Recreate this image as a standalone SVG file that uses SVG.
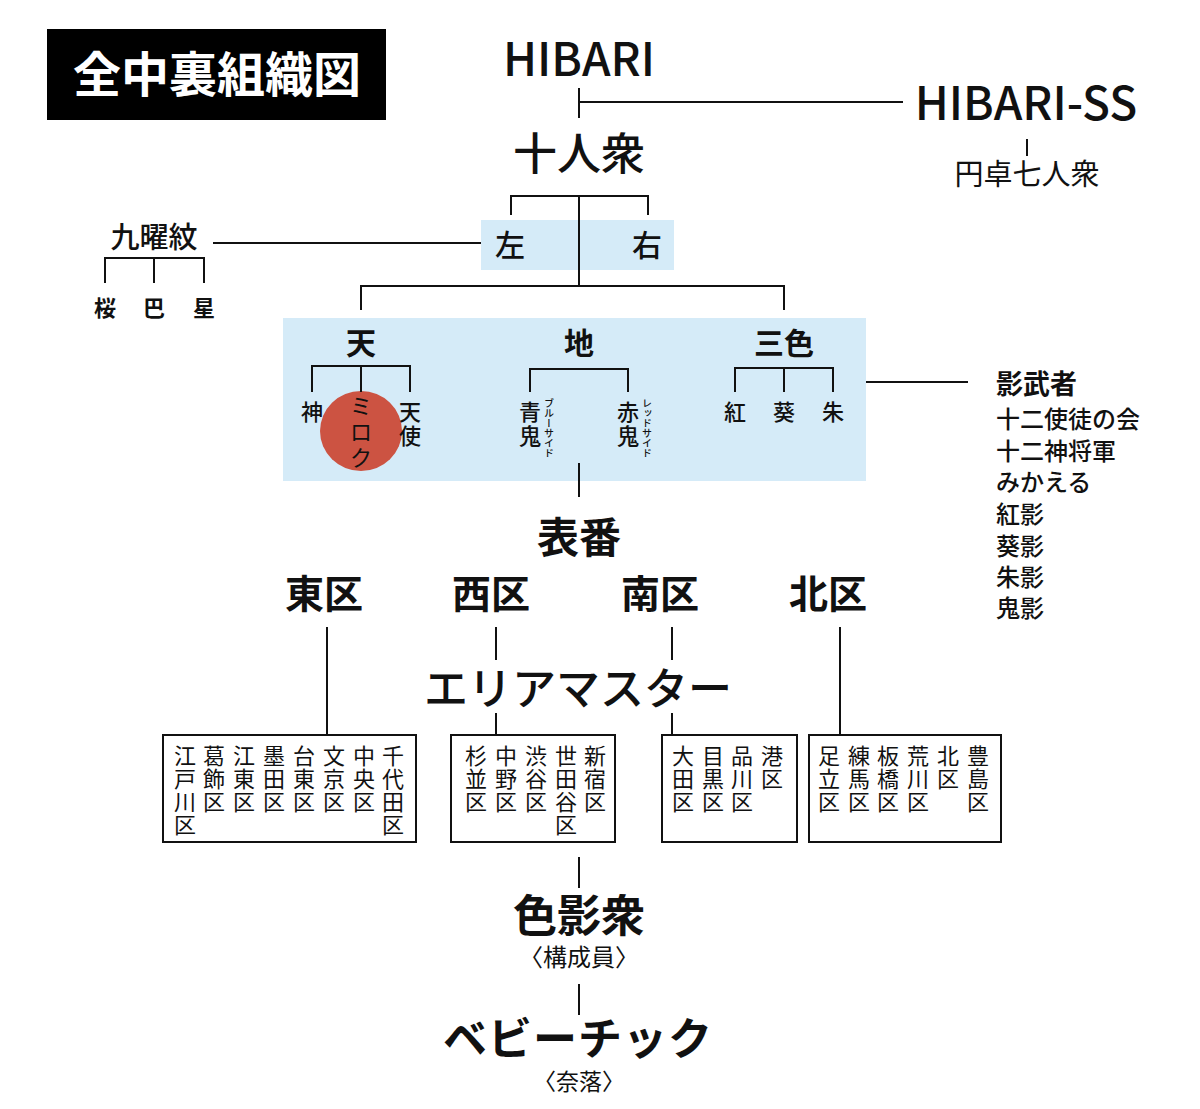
<svg xmlns="http://www.w3.org/2000/svg" width="1200" height="1109" viewBox="0 0 1200 1109">
<style>
text{font-family:"Noto Sans CJK JP","Noto Sans",sans-serif;fill:#111;}
.c{text-anchor:middle;}
.b{font-weight:700;}
.m{font-weight:500;}
.ln{stroke:#111;stroke-width:2;fill:none;}
.bx{fill:#fff;stroke:#111;stroke-width:2;}
.blue{fill:#d5ebf8;}
.w{font-size:22px;font-weight:500;text-anchor:middle;}
.r{font-size:22px;font-weight:400;text-anchor:middle;}
.v{font-size:10px;writing-mode:vertical-rl;font-weight:500;}
</style>
<rect x="0" y="0" width="1200" height="1109" fill="#fff"/>
<g id="title"><rect x="47" y="29" width="339" height="91" fill="#000"/><text x="217" y="92" class="c b" font-size="48" style="fill:#fff">全中裏組織図</text></g>
<g id="bg">
<rect class="blue" x="481" y="220" width="193" height="50"/>
<rect class="blue" x="283" y="318" width="583" height="163"/>
<ellipse cx="361" cy="431" rx="41" ry="40" fill="#cc5342"/>
</g>
<g id="connectors">
<path class="ln" d="M579 88V118M579 102H903M1027 139V156"/>
<path class="ln" d="M511 215V196H648V215M579 196V286"/>
<path class="ln" d="M213 243H481"/>
<path class="ln" d="M105 283V258H204V283M154 258V283"/>
<path class="ln" d="M361 310V286H784V310"/>
<path class="ln" d="M312 392V366H410V392M361 366V392"/>
<path class="ln" d="M530 392V369H628V392"/>
<path class="ln" d="M735 392V368H833V392M784 368V392"/>
<path class="ln" d="M866 382H968"/>
<path class="ln" d="M579 463V497"/>
<path class="ln" d="M327 627V735M840 627V735M496 627V660M496 713V735M672 627V660M672 713V735"/>
<path class="ln" d="M579 857V888M579 984V1015"/>
</g>
<g id="hibari"><text x="579" y="76" class="c m" font-size="46">HIBARI</text></g>
<g id="hibari-ss"><text x="1026" y="120" class="c m" font-size="46">HIBARI-SS</text></g>
<g id="entaku"><text x="1027" y="185" class="c" font-size="29">円卓七人衆</text></g>
<g id="juninshu"><text x="579" y="170" class="c m" font-size="44">十人衆</text></g>
<g id="sa"><text x="510" y="256" class="c m" font-size="30">左</text></g>
<g id="u"><text x="647" y="256" class="c m" font-size="30">右</text></g>
<g id="kuyomon"><text x="154" y="248" class="c m" font-size="29">九曜紋</text></g>
<g id="sakura"><text x="105" y="316" class="c b" font-size="22">桜</text></g>
<g id="tomoe"><text x="154" y="316" class="c b" font-size="22">巴</text></g>
<g id="hoshi"><text x="204" y="316" class="c b" font-size="22">星</text></g>
<g id="ten"><text x="361" y="354" class="c b" font-size="30">天</text></g>
<g id="chi"><text x="579" y="354" class="c b" font-size="30">地</text></g>
<g id="sanshoku"><text x="784" y="354" class="c b" font-size="30">三色</text></g>
<g id="kami"><text x="312" y="420" class="w">神</text></g>
<g id="miroku"><text class="r" font-size="24"><tspan x="361" y="414">ミ</tspan><tspan x="361" y="440">ロ</tspan><tspan x="361" y="466">ク</tspan></text></g>
<g id="tenshi"><text class="w"><tspan x="410" y="420">天</tspan><tspan x="410" y="444">使</tspan></text></g>
<g id="aooni"><text class="w b"><tspan x="530" y="420">青</tspan><tspan x="530" y="444">鬼</tspan></text><text x="549" y="398" class="v">ブルーサイド</text></g>
<g id="akaoni"><text class="w b"><tspan x="628" y="420">赤</tspan><tspan x="628" y="444">鬼</tspan></text><text x="647" y="398" class="v">レッドサイド</text></g>
<g id="kurenai"><text x="735" y="420" class="w b">紅</text></g>
<g id="aoi"><text x="784" y="420" class="w b">葵</text></g>
<g id="ake"><text x="833" y="420" class="w b">朱</text></g>
<g id="kagemusha">
<text x="996" y="394" class="b" font-size="27">影武者</text>
<text x="996" y="428" font-size="24" class="m">十二使徒の会</text>
<text x="996" y="460" font-size="24" class="m">十二神将軍</text>
<text x="996" y="491" font-size="24" class="m">みかえる</text>
<text x="996" y="523" font-size="24" class="m">紅影</text>
<text x="996" y="555" font-size="24" class="m">葵影</text>
<text x="996" y="586" font-size="24" class="m">朱影</text>
<text x="996" y="617" font-size="24" class="m">鬼影</text>
</g>
<g id="omoteban"><text x="579" y="553" class="c b" font-size="42">表番</text></g>
<g id="higashi"><text x="324" y="608" class="c b" font-size="39">東区</text></g>
<g id="nishi"><text x="491" y="608" class="c b" font-size="39">西区</text></g>
<g id="minami"><text x="660" y="608" class="c b" font-size="39">南区</text></g>
<g id="kita"><text x="828" y="608" class="c b" font-size="39">北区</text></g>
<g id="areamaster"><text x="578" y="705" class="c m" font-size="44">エリアマスター</text></g>
<g id="box-east"><rect class="bx" x="163" y="735" width="253" height="107"/>
<text class="r"><tspan x="185" y="764">江</tspan><tspan x="185" y="787">戸</tspan><tspan x="185" y="810">川</tspan><tspan x="185" y="833">区</tspan></text>
<text class="r"><tspan x="214" y="764">葛</tspan><tspan x="214" y="787">飾</tspan><tspan x="214" y="810">区</tspan></text>
<text class="r"><tspan x="244" y="764">江</tspan><tspan x="244" y="787">東</tspan><tspan x="244" y="810">区</tspan></text>
<text class="r"><tspan x="274" y="764">墨</tspan><tspan x="274" y="787">田</tspan><tspan x="274" y="810">区</tspan></text>
<text class="r"><tspan x="304" y="764">台</tspan><tspan x="304" y="787">東</tspan><tspan x="304" y="810">区</tspan></text>
<text class="r"><tspan x="334" y="764">文</tspan><tspan x="334" y="787">京</tspan><tspan x="334" y="810">区</tspan></text>
<text class="r"><tspan x="364" y="764">中</tspan><tspan x="364" y="787">央</tspan><tspan x="364" y="810">区</tspan></text>
<text class="r"><tspan x="393" y="764">千</tspan><tspan x="393" y="787">代</tspan><tspan x="393" y="810">田</tspan><tspan x="393" y="833">区</tspan></text>
</g>
<g id="box-west"><rect class="bx" x="451" y="735" width="164" height="107"/>
<text class="r"><tspan x="476" y="764">杉</tspan><tspan x="476" y="787">並</tspan><tspan x="476" y="810">区</tspan></text>
<text class="r"><tspan x="506" y="764">中</tspan><tspan x="506" y="787">野</tspan><tspan x="506" y="810">区</tspan></text>
<text class="r"><tspan x="536" y="764">渋</tspan><tspan x="536" y="787">谷</tspan><tspan x="536" y="810">区</tspan></text>
<text class="r"><tspan x="566" y="764">世</tspan><tspan x="566" y="787">田</tspan><tspan x="566" y="810">谷</tspan><tspan x="566" y="833">区</tspan></text>
<text class="r"><tspan x="595" y="764">新</tspan><tspan x="595" y="787">宿</tspan><tspan x="595" y="810">区</tspan></text>
</g>
<g id="box-south"><rect class="bx" x="662" y="735" width="135" height="107"/>
<text class="r"><tspan x="683" y="764">大</tspan><tspan x="683" y="787">田</tspan><tspan x="683" y="810">区</tspan></text>
<text class="r"><tspan x="713" y="764">目</tspan><tspan x="713" y="787">黒</tspan><tspan x="713" y="810">区</tspan></text>
<text class="r"><tspan x="742" y="764">品</tspan><tspan x="742" y="787">川</tspan><tspan x="742" y="810">区</tspan></text>
<text class="r"><tspan x="772" y="764">港</tspan><tspan x="772" y="787">区</tspan></text>
</g>
<g id="box-north"><rect class="bx" x="809" y="735" width="192" height="107"/>
<text class="r"><tspan x="829" y="764">足</tspan><tspan x="829" y="787">立</tspan><tspan x="829" y="810">区</tspan></text>
<text class="r"><tspan x="859" y="764">練</tspan><tspan x="859" y="787">馬</tspan><tspan x="859" y="810">区</tspan></text>
<text class="r"><tspan x="888" y="764">板</tspan><tspan x="888" y="787">橋</tspan><tspan x="888" y="810">区</tspan></text>
<text class="r"><tspan x="918" y="764">荒</tspan><tspan x="918" y="787">川</tspan><tspan x="918" y="810">区</tspan></text>
<text class="r"><tspan x="948" y="764">北</tspan><tspan x="948" y="787">区</tspan></text>
<text class="r"><tspan x="978" y="764">豊</tspan><tspan x="978" y="787">島</tspan><tspan x="978" y="810">区</tspan></text>
</g>
<g id="shikieishu"><text x="579" y="932" class="c b" font-size="44">色影衆</text><text x="579" y="966" class="c" font-size="24">〈構成員〉</text></g>
<g id="babychick"><text x="578" y="1055" class="c b" font-size="44" letter-spacing="1">ベビーチック</text><text x="579" y="1090" class="c" font-size="23">〈奈落〉</text></g>
</svg>
